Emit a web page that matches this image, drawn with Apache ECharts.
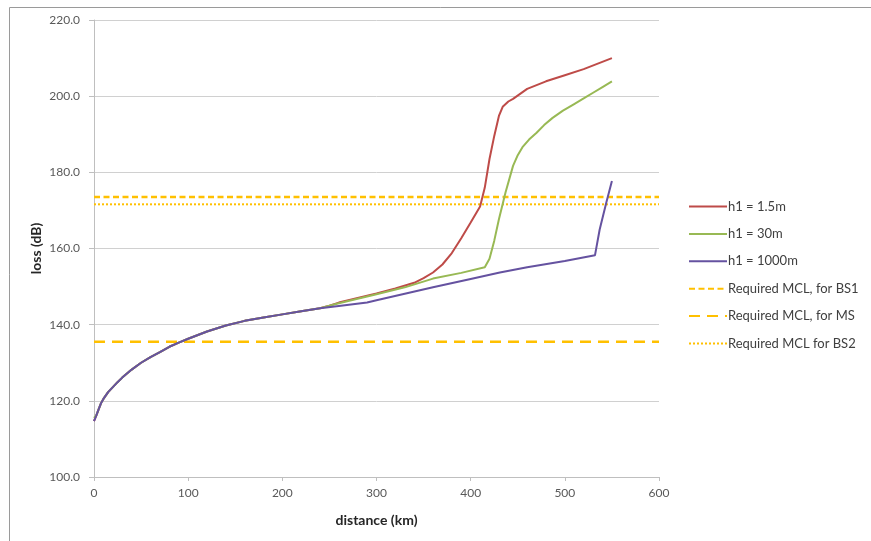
<!DOCTYPE html>
<html>
<head>
<meta charset="utf-8">
<script src="https://cdn.jsdelivr.net/npm/echarts@6/dist/echarts.min.js"></script>
<style>
html,body{margin:0;padding:0;background:#fff;}
#c{width:871px;height:541px;}
</style>
</head>
<body>
<div id="c"></div>
<script>
// ---- data ----
var seriesNames = ["h1 = 1.5m", "h1 = 30m", "h1 = 1000m", "Required MCL, for BS1", "Required MCL, for MS", "Required MCL for BS2"];

var commonDist = [0, 2.5, 5, 7.5, 10, 15, 20, 25, 30, 40, 50, 60, 70, 80, 90, 100, 120, 140, 160, 180, 200, 220, 240];
var commonLoss = [114.7, 116.2, 117.8, 119.4, 120.5, 122.3, 123.6, 124.9, 126.1, 128.2, 130.0, 131.5, 132.8, 134.2, 135.3, 136.3, 138.2, 139.8, 141.0, 141.9, 142.7, 143.5, 144.3];

var redDist = [250, 260, 280, 300, 320, 340, 350, 360, 370, 380, 390, 400, 410, 415, 420, 425, 430, 434, 440, 445, 460, 480, 500, 520, 550];
var redLoss = [145.0, 145.8, 147.0, 148.2, 149.5, 151.0, 152.2, 153.7, 155.8, 158.8, 162.7, 166.8, 171.0, 176.0, 183.5, 189.5, 194.8, 197.2, 198.6, 199.3, 201.9, 203.9, 205.5, 207.1, 210.0];

var greenDist = [260, 280, 300, 330, 360, 390, 415, 420, 425, 430, 437, 445, 450, 455, 462, 470, 478, 487, 498, 509, 520, 530, 540, 550];
var greenLoss = [145.6, 146.8, 148.0, 149.8, 152.1, 153.6, 155.1, 157.3, 162.0, 167.7, 174.7, 181.7, 184.5, 186.6, 188.6, 190.4, 192.4, 194.3, 196.2, 197.8, 199.4, 200.9, 202.4, 203.9];

var purpleDist = [260, 290, 300, 330, 360, 400, 431, 460, 500, 532, 537, 544, 550];
var purpleLoss = [144.9, 145.8, 146.4, 148.1, 149.8, 152.0, 153.7, 155.1, 156.7, 158.2, 165.0, 172.0, 177.7];

var mclDist = [0, 600];
var mclBS1 = 173.5;
var mclMS = 135.5;
var mclBS2 = 171.6;

var xTicks = [0, 100, 200, 300, 400, 500, 600];
var yTicks = [100, 120, 140, 160, 180, 200, 220];

// ---- build ----
function pairs(xs, ys) { return xs.map(function (x, i) { return [x, ys[i]]; }); }
function withCommon(xs, ys) { return pairs(commonDist, commonLoss).concat(pairs(xs, ys)); }
function flat(v) { return mclDist.map(function (x) { return [x, v]; }); }

var greenStart = pairs(commonDist, commonLoss);
greenStart[0] = [0, 115.5];

var chart = echarts.init(document.getElementById('c'), null, {renderer: 'canvas'});
var txtFont = 'Lato, "Open Sans", "Liberation Sans", sans-serif';
chart.setOption({
  animation: false,
  backgroundColor: '#ffffff',
  graphic: [{
    type: 'rect', left: 7, top: 5,
    shape: {width: 870, height: 540},
    style: {fill: 'none', stroke: '#9a9a9a', lineWidth: 1}
  }],
  grid: {left: 94, right: 212, top: 20, bottom: 64, containLabel: false},
  legend: {
    orient: 'vertical', left: 683, top: 195,
    itemWidth: 38, itemHeight: 14, itemGap: 14.4,
    data: seriesNames,
    itemStyle: {opacity: 0},
    textStyle: {fontFamily: txtFont, fontSize: 13, color: '#404040', padding: [0, 0, 0, -4]}
  },
  xAxis: {
    type: 'value', min: 0, max: 600, interval: 100,
    name: 'distance (km)', nameLocation: 'middle', nameGap: 36,
    nameMoveOverlap: false,
    nameTextStyle: {fontFamily: txtFont, fontSize: 14, fontWeight: 'bold', color: '#262626'},
    axisLine: {show: true, lineStyle: {color: '#bfbfbf', width: 1}},
    axisTick: {show: true, length: 4, inside: false, lineStyle: {color: '#bfbfbf'}},
    axisLabel: {fontFamily: txtFont, fontSize: 12, color: '#595959', margin: 10,
      formatter: function (v) { return xTicks.indexOf(v) >= 0 ? String(v) : ''; }},
    splitLine: {show: false}
  },
  yAxis: {
    type: 'value', min: 100, max: 220, interval: 20,
    name: 'loss (dB)', nameLocation: 'middle', nameGap: 51, nameRotate: 90,
    nameMoveOverlap: false,
    nameTextStyle: {fontFamily: txtFont, fontSize: 14, fontWeight: 'bold', color: '#262626'},
    axisLine: {show: true, lineStyle: {color: '#bfbfbf', width: 1}},
    axisTick: {show: true, length: 5, inside: false, lineStyle: {color: '#bfbfbf'}},
    axisLabel: {fontFamily: txtFont, fontSize: 12, color: '#595959', margin: 14,
      formatter: function (v) { return yTicks.indexOf(v) >= 0 ? v.toFixed(1) : ''; }},
    splitLine: {show: true, lineStyle: {color: '#d0d0d0', width: 1}}
  },
  series: [
    {name: seriesNames[0], type: 'line', symbol: 'none', smooth: false, z: 3,
      data: withCommon(redDist, redLoss),
      lineStyle: {color: '#be4b48', width: 2}, itemStyle: {color: '#be4b48'}},
    {name: seriesNames[1], type: 'line', symbol: 'none', smooth: false, z: 4,
      data: greenStart.concat(pairs(greenDist, greenLoss)),
      lineStyle: {color: '#98b954', width: 2}, itemStyle: {color: '#98b954'}},
    {name: seriesNames[2], type: 'line', symbol: 'none', smooth: false, z: 5,
      data: withCommon(purpleDist, purpleLoss),
      lineStyle: {color: '#6552a0', width: 2}, itemStyle: {color: '#6552a0'}},
    {name: seriesNames[3], type: 'line', symbol: 'none', z: 2,
      data: flat(mclBS1),
      lineStyle: {color: '#ffc000', width: 2.5, type: [6, 3.5]}, itemStyle: {color: '#ffc000'}},
    {name: seriesNames[4], type: 'line', symbol: 'none', z: 2,
      data: flat(mclMS),
      lineStyle: {color: '#ffc000', width: 2.5, type: [11, 7]}, itemStyle: {color: '#ffc000'}},
    {name: seriesNames[5], type: 'line', symbol: 'none', z: 2,
      data: flat(mclBS2),
      lineStyle: {color: '#ffc000', width: 2, type: [2, 2]}, itemStyle: {color: '#ffc000'}}
  ]
});
</script>
</body>
</html>
